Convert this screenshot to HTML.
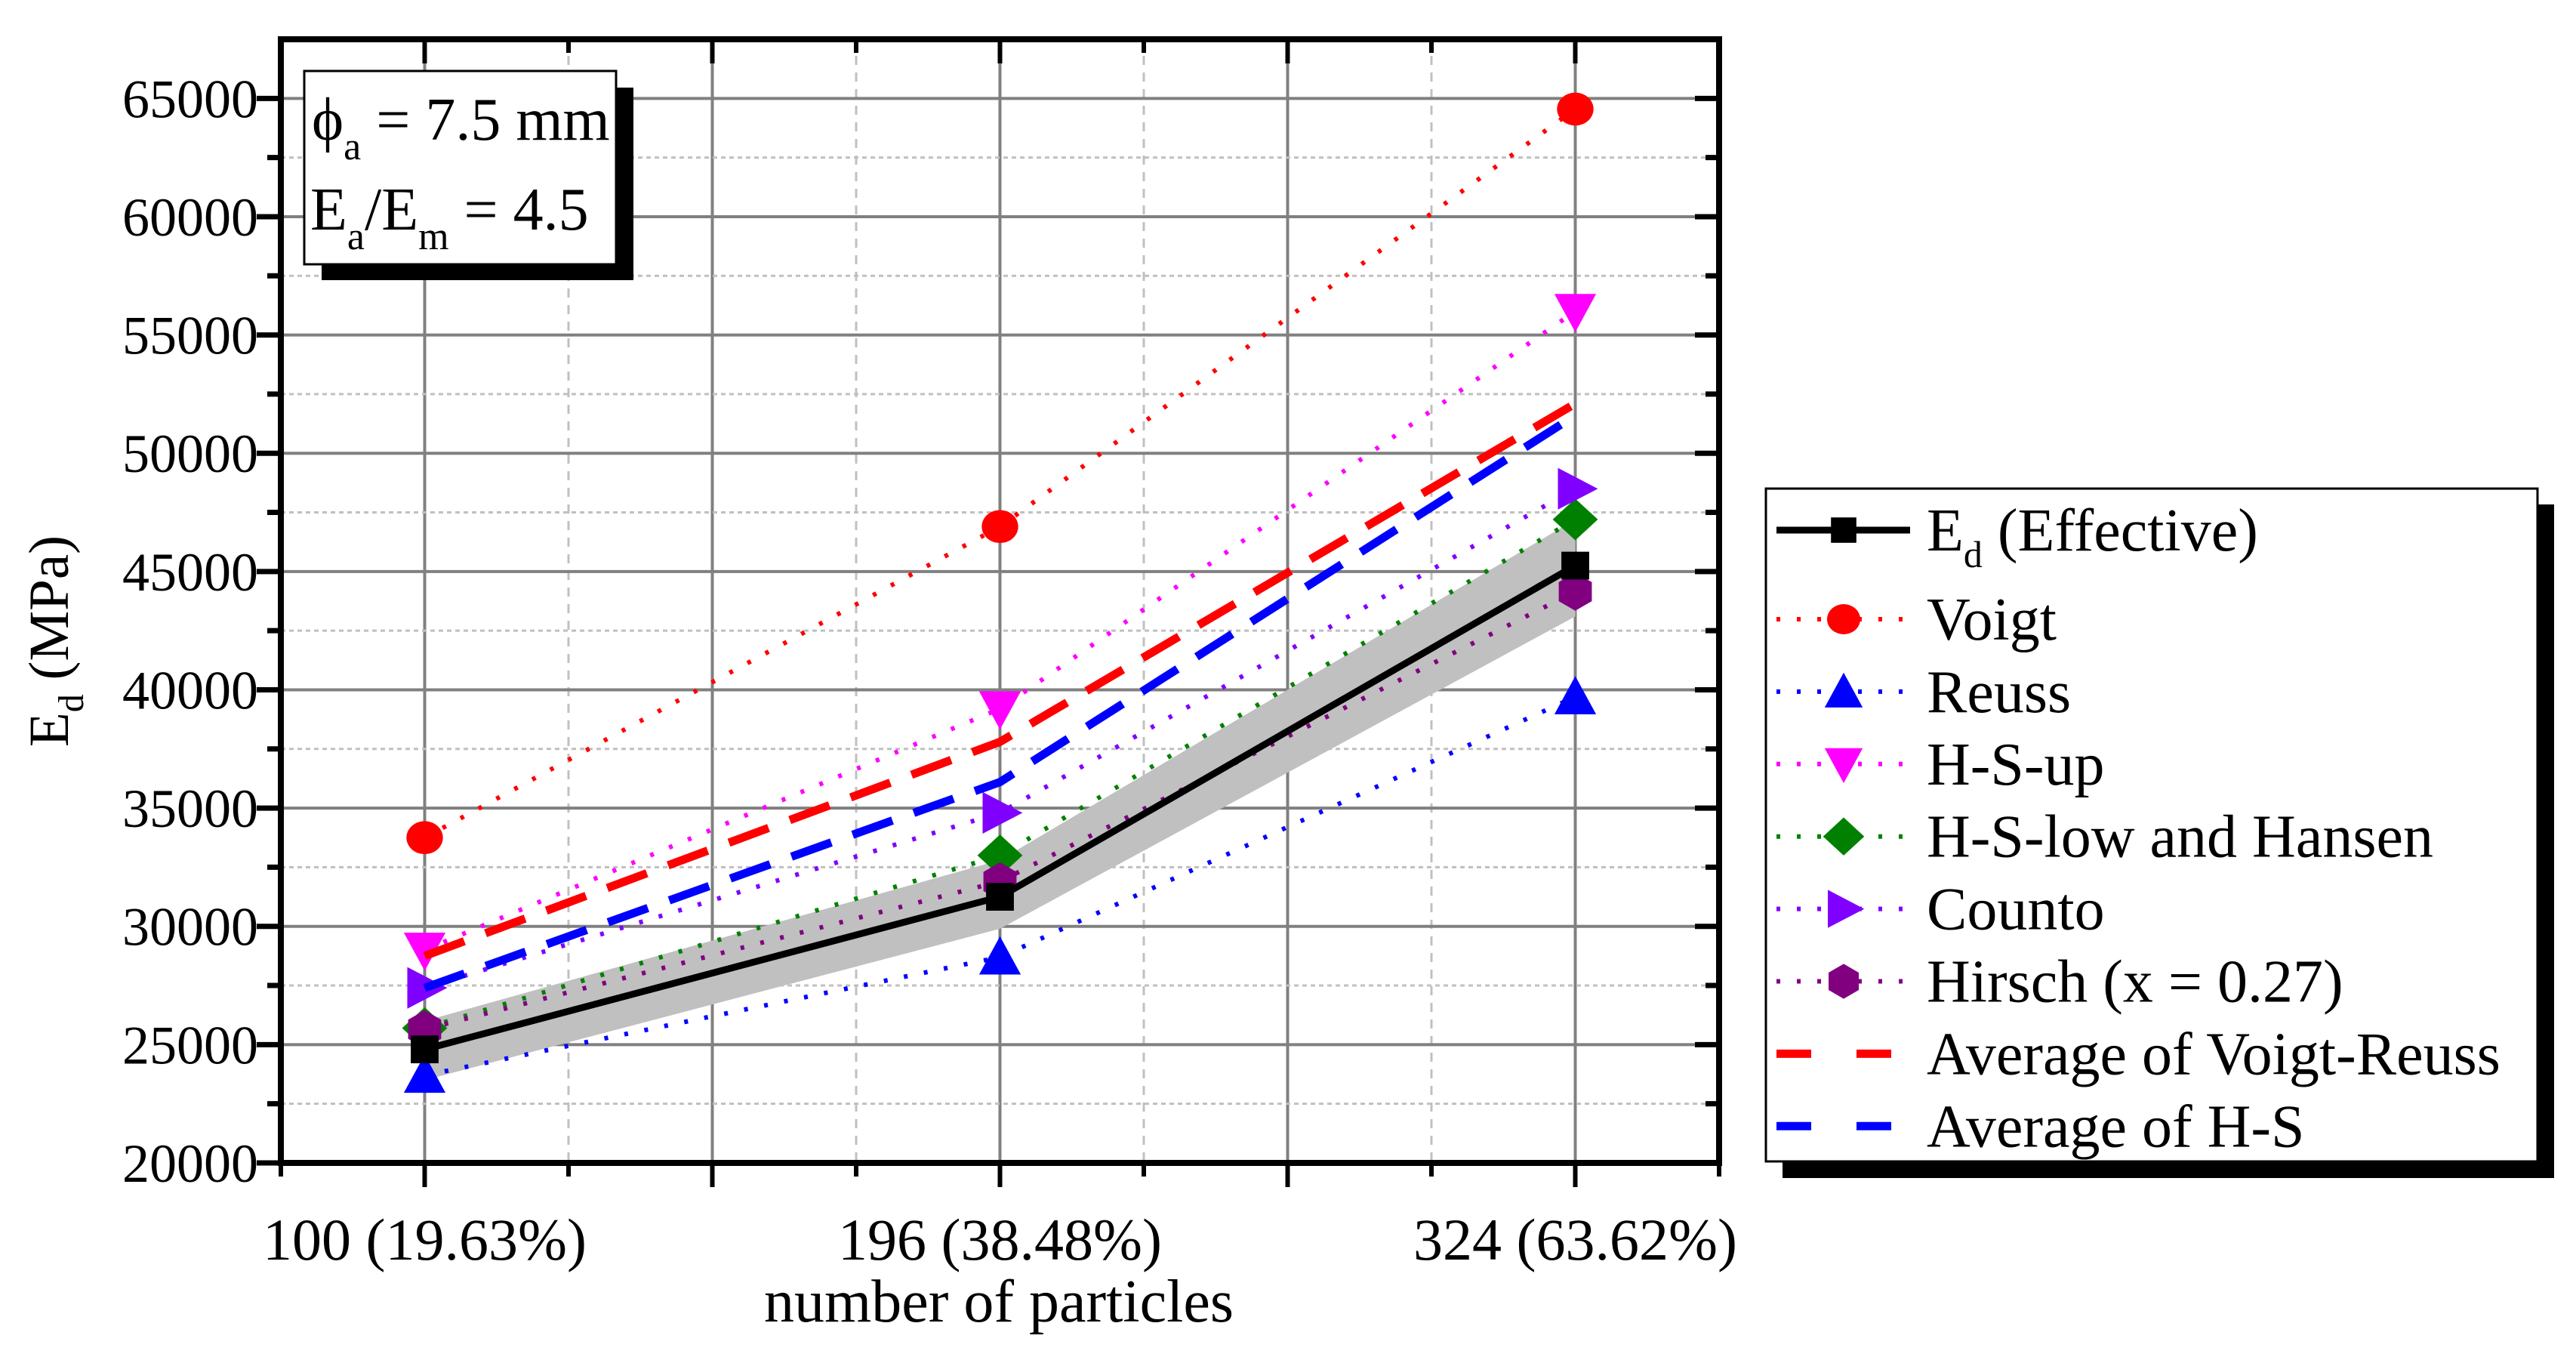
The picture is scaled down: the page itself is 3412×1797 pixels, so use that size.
<!DOCTYPE html>
<html><head><meta charset="utf-8">
<style>
html,body{margin:0;padding:0;background:#fff;}
svg{display:block;font-family:"Liberation Serif",serif;}
</style></head>
<body>
<svg id="chart" width="3412" height="1797" viewBox="0 0 3412 1797" xmlns="http://www.w3.org/2000/svg">
<g id="grid"></g>
<g id="band"></g>
<g id="series"></g>
<g id="axes"></g>
<g id="annot">
  <rect x="426" y="116" width="413" height="255" fill="#000"/>
  <rect x="403" y="94" width="413" height="256" fill="#fff" stroke="#000" stroke-width="3"/>
  <text x="413" y="185" font-size="80">ϕ<tspan font-size="52" dy="26">a</tspan><tspan dy="-26"> = 7.5 mm</tspan></text>
  <text x="411" y="304" font-size="80">E<tspan font-size="52" dy="26">a</tspan><tspan dy="-26">/E</tspan><tspan font-size="52" dy="26">m</tspan><tspan dy="-26"> = 4.5</tspan></text>
</g>
<g id="legend">
  <rect x="2361" y="668" width="1022" height="892" fill="#000"/>
  <rect x="2339" y="647" width="1022" height="891" fill="#fff" stroke="#000" stroke-width="3"/>
</g>
<text x="1323" y="1750" font-size="80" text-anchor="middle">number of particles</text>
<text transform="translate(90,849) rotate(-90)" font-size="75" text-anchor="middle">E<tspan font-size="48" dy="20">d</tspan><tspan dy="-20"> (MPa)</tspan></text>
</svg>
<script>
const categories = ["100 (19.63%)", "196 (38.48%)", "324 (63.62%)"];
const yTicks = [20000, 25000, 30000, 35000, 40000, 45000, 50000, 55000, 60000, 65000];
const effective = [24800, 31250, 45250];
const bandUpper = [26000, 32800, 47200];
const bandLower = [23500, 29900, 43100];
const voigt = [33750, 46900, 64550];
const reuss = [23700, 28700, 39700];
const hsUp = [29000, 39200, 56000];
const hsLow = [25700, 33000, 47200];
const counto = [27400, 34800, 48500];
const hirsch = [25650, 31900, 44150];
const avgVR = [28750, 37800, 52100];
const avgHS = [27400, 36100, 51600];

const NS = "http://www.w3.org/2000/svg";
const PL = 372, PR = 2277, PT = 52, PB = 1540;
const XMIN = -0.25, XMAX = 2.25, YMIN = 20000, YMAX = 67500;
function xs(i){ return PL + (i - XMIN) / (XMAX - XMIN) * (PR - PL); }
function ys(v){ return PB - (v - YMIN) / (YMAX - YMIN) * (PB - PT); }
function el(tag, attrs, parent){
  const e = document.createElementNS(NS, tag);
  for (const k in attrs) e.setAttribute(k, attrs[k]);
  parent.appendChild(e);
  return e;
}
const grid = document.getElementById('grid');
const axes = document.getElementById('axes');
const bandG = document.getElementById('band');
const seriesG = document.getElementById('series');
const legend = document.getElementById('legend');

for (let q = 1; q < 10; q++) {
  const x = xs(XMIN + q * 0.25);
  const major = q % 2 === 1;
  const g = el('line', {x1:x, x2:x, y1:PT, y2:PB, stroke: major ? '#808080' : '#c0c0c0', 'stroke-width': major ? 4 : 3, 'stroke-dasharray': major ? '' : '12 10'}, grid);
  
  
}
for (let v = YMIN + 2500; v < YMAX; v += 2500) {
  const y = ys(v);
  const major = v % 5000 === 0;
  const g = el('line', {x1:PL, x2:PR, y1:y, y2:y, stroke: major ? '#808080' : '#c0c0c0', 'stroke-width': major ? 4 : 3, 'stroke-dasharray': major ? '' : '6 5'}, grid);
  
  
}

const bandPts = categories.map((c,i)=>xs(i)+','+ys(bandUpper[i])).concat(categories.map((c,i)=>i).reverse().map(i=>xs(i)+','+ys(bandLower[i]))).join(' ');
const bp = el('polygon', {points: bandPts, fill:'#c0c0c0'}, bandG);



function marker(type, cx, cy, color, parent, s){
  s = s || 23;
  let m;
  if (type === 'square') m = el('rect', {x:cx-s*0.8, y:cy-s*0.8, width:s*1.6, height:s*1.6, fill:color}, parent);
  else if (type === 'circle') m = el('ellipse', {cx:cx, cy:cy, rx:s*1.05, ry:s*0.95, fill:color}, parent);
  else if (type === 'up') m = el('polygon', {points:`${cx},${cy-s*1.2} ${cx-s*1.2},${cy+s} ${cx+s*1.2},${cy+s}`, fill:color}, parent);
  else if (type === 'down') m = el('polygon', {points:`${cx},${cy+s*1.2} ${cx-s*1.2},${cy-s} ${cx+s*1.2},${cy-s}`, fill:color}, parent);
  else if (type === 'diamond') m = el('polygon', {points:`${cx},${cy-s*1.2} ${cx+s*1.3},${cy} ${cx},${cy+s*1.2} ${cx-s*1.3},${cy}`, fill:color}, parent);
  else if (type === 'right') m = el('polygon', {points:`${cx+s*1.3},${cy} ${cx-s},${cy-s*1.2} ${cx-s},${cy+s*1.2}`, fill:color}, parent);
  else if (type === 'hex') {
    const p = [];
    for (let k=0;k<6;k++){ const a = Math.PI/6 + k*Math.PI/3; p.push((cx+s*1.1*Math.cos(a))+','+(cy+s*1.1*Math.sin(a))); }
    m = el('polygon', {points:p.join(' '), fill:color}, parent);
  }
  return m;
}

const seriesDefs = [
  {name:'voigt', data:voigt, color:'#ff0000', m:'circle', dash:'5 22', w:6},
  {name:'reuss', data:reuss, color:'#0000ff', m:'up', dash:'5 22', w:6},
  {name:'hs-up', data:hsUp, color:'#ff00ff', m:'down', dash:'5 22', w:6},
  {name:'hs-low', data:hsLow, color:'#008000', m:'diamond', dash:'5 22', w:6},
  {name:'counto', data:counto, color:'#8000ff', m:'right', dash:'5 22', w:6},
  {name:'hirsch', data:hirsch, color:'#800080', m:'hex', dash:'5 22', w:6},
  {name:'avg-voigt-reuss', data:avgVR, color:'#ff0000', m:null, dash:'56 30', w:11},
  {name:'avg-hs', data:avgHS, color:'#0000ff', m:null, dash:'56 30', w:11},
  {name:'effective', data:effective, color:'#000000', m:'square', dash:'', w:9}
];
seriesDefs.forEach(s=>{
  const g = el('g', {}, seriesG);
  
  
  const pl = el('polyline', {points: s.data.map((v,i)=>xs(i)+','+ys(v)).join(' '), fill:'none', stroke:s.color, 'stroke-width':s.w, 'stroke-dasharray':s.dash}, g);
  
  
  if (s.m) s.data.forEach((v,i)=>{
    const mk = marker(s.m, xs(i), ys(v), s.color, g);
    
    
  });
});

const fr = el('rect', {x:PL, y:PT, width:PR-PL, height:PB-PT, fill:'none', stroke:'#000', 'stroke-width':8}, axes);


for (let q = 0; q <= 10; q++) {
  const x = xs(XMIN + q*0.25);
  const major = q % 2 === 1;
  const L = major ? 32 : 18;
  const t = el('line', {x1:x, x2:x, y1:PB, y2:PB+L, stroke:'#000', 'stroke-width':6}, axes);
  
  
  const t2 = el('line', {x1:x, x2:x, y1:PT, y2:PT+L, stroke:'#000', 'stroke-width':6}, axes);
  
  
}
for (let v = YMIN; v < YMAX; v += 2500) {
  const y = ys(v);
  const major = v % 5000 === 0;
  const L = major ? 32 : 18;
  const t = el('line', {x1:PL-L, x2:PL, y1:y, y2:y, stroke:'#000', 'stroke-width':7}, axes);
  
  
  const t2 = el('line', {x1:PR-L, x2:PR, y1:y, y2:y, stroke:'#000', 'stroke-width':7}, axes);
  
  
}
yTicks.forEach(v=>{
  const t = el('text', {x:342, y:ys(v)+25, 'font-size':72, 'text-anchor':'end'}, axes);
  t.textContent = v;
  
  
});
categories.forEach((c,i)=>{
  const t = el('text', {x:xs(i), y:1668, 'font-size':78, 'text-anchor':'middle'}, axes);
  t.textContent = c;
  
  
});

const legRows = [
  {label:'Effective', s:seriesDefs[8]},
  {label:'Voigt', s:seriesDefs[0]},
  {label:'Reuss', s:seriesDefs[1]},
  {label:'H-S-up', s:seriesDefs[2]},
  {label:'H-S-low and Hansen', s:seriesDefs[3]},
  {label:'Counto', s:seriesDefs[4]},
  {label:'Hirsch (x = 0.27)', s:seriesDefs[5]},
  {label:'Average of Voigt-Reuss', s:seriesDefs[6]},
  {label:'Average of H-S', s:seriesDefs[7]}
];
legRows.forEach((r,k)=>{
  const y = k === 0 ? 702 : 820 + (k-1)*95.9;
  const g = el('g', {}, legend);
  
  
  const s = r.s;
  let dash = s.dash;
  if (s.m === null) dash = '46 60';
  const ln = el('line', {x1:2353, x2:2530, y1:y, y2:y, stroke:s.color, 'stroke-width':s.w, 'stroke-dasharray':dash}, g);
  
  
  if (s.m) {
    const mk = marker(s.m, 2442, y, s.color, g, 21);
    
    
  }
  const t = el('text', {x:2552, y:y+27, 'font-size':80}, g);
  
  
  if (k === 0) {
    t.innerHTML = 'E<tspan font-size="50" dy="22">d</tspan><tspan dy="-22"> (Effective)</tspan>';
  } else t.textContent = r.label;
});
</script>
</body></html>
